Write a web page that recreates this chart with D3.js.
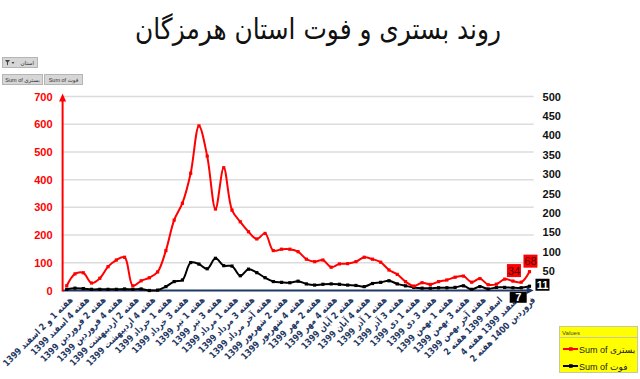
<!DOCTYPE html>
<html>
<head>
<meta charset="utf-8">
<script src="https://cdn.jsdelivr.net/npm/d3@7"></script>
<style>
  html, body { margin: 0; padding: 0; background: #fff; }
  svg { display: block; font-family: "Liberation Sans", Arial, "DejaVu Sans", sans-serif; }
</style>
</head>
<body>
<svg id="chart" width="640" height="379"></svg>
<script>
// ---- data ----
const tickLabels = [
  "هفته 1 و 2 اسفند 1399", "هفته 4 اسفند 1399", "هفته 2 فروردین 1399", "هفته 4 فروردین 1399",
  "هفته 2 اردیبهشت 1399", "هفته 4 اردیبهشت 1399", "هفته 1 خرداد 1399", "هفته 3 خرداد 1399",
  "هفته 1 تیر 1399", "هفته 3 تیر 1399", "هفته 1 مرداد 1399", "هفته 3 مرداد 1399",
  "هفته آخر مرداد 1399", "هفته 2 شهریور 1399", "هفته 4 شهریور 1399", "هفته 2 مهر 1399",
  "هفته 4 مهر 1399", "هفته 2 آبان 1399", "هفته 4 آبان 1399", "هفته 1 آذر 1399",
  "هفته 3 آذر 1399", "هفته 1 دی 1399", "هفته 3 دی 1399", "هفته 1 بهمن 1399",
  "هفته 3 بهمن 1399", "هفته آخر بهمن 1399", "اسفند 1399 هفته 2", "اسفند 1399 هفته 4",
  "فروردین 1400 هفته 2"
];
// hospitalized (left axis)
const hospitalized = [17, 60, 64, 27, 44, 86, 110, 120, 17, 35, 46, 67, 144, 254, 315, 423, 594, 485, 294, 443,
  290, 248, 212, 186, 206, 144, 149, 149, 140, 113, 104, 110, 84, 96, 97, 104, 120, 113, 102, 74,
  58, 32, 16, 28, 22, 32, 38, 48, 52, 30, 43, 21, 23, 41, 34, 30, 68];
// deaths (right axis)
const deaths = [3, 6, 5, 3, 3, 3, 3, 4, 3, 4, 0, 1, 10, 23, 27, 72, 68, 56, 83, 64,
  63, 38, 55, 46, 33, 23, 21, 20, 24, 17, 14, 16, 17, 16, 14, 13, 10, 18, 21, 25,
  17, 12, 8, 6, 6, 7, 7, 8, 12, 3, 10, 4, 8, 8, 7, 7, 11];
const leftTicks = [0, 100, 200, 300, 400, 500, 600, 700];
const rightTicks = [50, 100, 150, 200, 250, 300, 350, 400, 450, 500];
const seriesNames = ["Sum of بستری", "Sum of فوت"];
const titleText = "روند بستری و فوت استان هرمزگان";
const labeledRed = [54, 56];
const labeledBlack = [55, 56];

// ---- layout ----
const svg = d3.select("#chart");
const L = 62.6, R = 533.6, T = 96.5, B = 290.5;
const idx = d3.range(hospitalized.length);
const x = d3.scalePoint().domain(idx).range([L, R]).padding(0.5);
const yL = d3.scaleLinear().domain([0, 700]).range([B, T]);
const yR = d3.scaleLinear().domain([0, 500]).range([B, T]);

const navy = "#1f3864";

// title
svg.append("text").attr("x", 318).attr("y", 39).attr("text-anchor", "middle")
  .attr("font-size", 29).attr("fill", "#111").attr("font-family", "DejaVu Sans, sans-serif")
  .attr("textLength", 366).attr("lengthAdjust", "spacingAndGlyphs")
  .text(titleText);

// top-left pivot buttons
const btn = svg.append("g").attr("font-size", 5.5).attr("fill", "#333");
btn.append("rect").attr("x", 2.5).attr("y", 57.5).attr("width", 35).attr("height", 10)
  .attr("fill", "#d6d6d6").attr("stroke", "#b5b5b5");
btn.append("text").attr("x", 34).attr("y", 64.5).attr("text-anchor", "end").attr("fill", "#333").text("استان");
btn.append("path").attr("d", "M5,60 h5 l-2,2.5 v3 l-1,-0.8 v-2.2 z").attr("fill", "#444");
btn.append("path").attr("d", "M11.5,62 h3 l-1.5,2 z").attr("fill", "#444");
[{x: 2.5, w: 40, t: seriesNames[0]}, {x: 44.5, w: 38, t: seriesNames[1]}].forEach(b => {
  btn.append("rect").attr("x", b.x).attr("y", 74.5).attr("width", b.w).attr("height", 10)
    .attr("fill", "#d6d6d6").attr("stroke", "#b5b5b5");
  btn.append("text").attr("x", b.x + b.w / 2).attr("y", 81.5).attr("text-anchor", "middle")
    .attr("fill", "#333").text(b.t);
});

// gridlines
svg.append("g").selectAll("line").data(leftTicks.slice(1)).join("line")
  .attr("x1", L).attr("x2", R).attr("y1", d => yL(d)).attr("y2", d => yL(d))
  .attr("stroke", "#dcdcdc").attr("stroke-width", 1.5);

// left axis labels
const gL = svg.append("g").attr("transform", `translate(${L},0)`)
  .call(d3.axisLeft(yL).tickValues(leftTicks).tickSize(0).tickPadding(10));
gL.select(".domain").remove();
gL.selectAll("text").attr("fill", "#ff0000").attr("font-weight", "bold").attr("font-size", 11)
  .attr("font-family", "Liberation Sans, Arial, sans-serif");

// right axis labels
const gR = svg.append("g").attr("transform", `translate(${R},0)`)
  .call(d3.axisRight(yR).tickValues(rightTicks).tickSize(0).tickPadding(9));
gR.select(".domain").remove();
gR.selectAll("text").attr("fill", "#111").attr("font-weight", "bold").attr("font-size", 11)
  .attr("font-family", "Liberation Sans, Arial, sans-serif");

// x axis labels
const evens = idx.filter(i => i % 2 === 0);
const gX = svg.append("g").attr("transform", `translate(0,${B})`)
  .call(d3.axisBottom(x).tickValues(evens).tickSize(0).tickFormat(i => tickLabels[i / 2]));
gX.select(".domain").remove();
const xt = gX.selectAll("text")
  .attr("fill", navy).attr("font-weight", "bold").attr("font-size", 9.2)
  .attr("font-family", "DejaVu Sans, sans-serif")
  .attr("text-anchor", "end").attr("dy", 0).attr("y", 0)
  .attr("transform", "translate(6,10) rotate(-45)");
// compress horizontally so the longest-first label spans about as in the reference
const firstLen = xt.node().getComputedTextLength();
const k = Math.min(1, 94 / firstLen);
xt.each(function () {
  const len = this.getComputedTextLength();
  d3.select(this).attr("textLength", len * k).attr("lengthAdjust", "spacingAndGlyphs");
});

// bottom axis line with arrow
svg.append("line").attr("x1", L).attr("x2", R - 3).attr("y1", B).attr("y2", B)
  .attr("stroke", navy).attr("stroke-width", 2);
svg.append("path").attr("d", `M${R - 7},${B - 3.5} L${R},${B} L${R - 7},${B + 3.5} Z`).attr("fill", navy);

// left axis line with arrow
svg.append("line").attr("x1", L).attr("x2", L).attr("y1", B + 1).attr("y2", T + 2)
  .attr("stroke", "#ff0000").attr("stroke-width", 2);
svg.append("path").attr("d", `M${L - 3.5},${T + 5} L${L},${T - 3} L${L + 3.5},${T + 5} Z`).attr("fill", "#ff0000");

// series
const curve = d3.curveCatmullRom.alpha(0.5);
const lineL = d3.line().x(i => x(i)).y(i => yL(hospitalized[i])).curve(curve);
const lineR = d3.line().x(i => x(i)).y(i => yR(deaths[i])).curve(curve);

svg.append("path").attr("d", lineR(idx)).attr("fill", "none").attr("stroke", "#000").attr("stroke-width", 2);
svg.append("g").selectAll("rect").data(idx).join("rect")
  .attr("x", i => x(i) - 1.6).attr("y", i => yR(deaths[i]) - 1.6).attr("width", 3.2).attr("height", 3.2)
  .attr("fill", "#000");

svg.append("path").attr("d", lineL(idx)).attr("fill", "none").attr("stroke", "#ff0000").attr("stroke-width", 2);
svg.append("g").selectAll("rect").data(idx).join("rect")
  .attr("x", i => x(i) - 1.6).attr("y", i => yL(hospitalized[i]) - 1.6).attr("width", 3.2).attr("height", 3.2)
  .attr("fill", "#ff0000");

// data labels
function box(cx, cy, w, h, fill, txt, tcol) {
  svg.append("rect").attr("x", cx - w / 2).attr("y", cy - h / 2).attr("width", w).attr("height", h).attr("fill", fill);
  svg.append("text").attr("x", cx).attr("y", cy + 4).attr("text-anchor", "middle")
    .attr("font-size", 11).attr("font-family", "Liberation Sans, Arial, sans-serif")
    .attr("font-weight", tcol === "#fff" ? "bold" : "normal")
    .attr("fill", tcol).text(txt);
}
labeledRed.forEach(i => box(x(i) + 1, yL(hospitalized[i]) - 10.5, 14, 13, "#ff0000", hospitalized[i], "#4a0000"));
box(x(labeledBlack[0]) - 3, yR(deaths[labeledBlack[0]]) + 9.5, 17, 11, "#000", deaths[labeledBlack[0]], "#fff");
box(x(labeledBlack[1]) + 13, yR(deaths[labeledBlack[1]]) - 1.5, 14, 12, "#000", deaths[labeledBlack[1]], "#fff");

// legend
const lg = svg.append("g");
lg.append("rect").attr("x", 559.5).attr("y", 326.5).attr("width", 78).attr("height", 46)
  .attr("fill", "#ffff00").attr("stroke", "#c8c8a0");
lg.append("line").attr("x1", 560).attr("x2", 637).attr("y1", 337.5).attr("y2", 337.5).attr("stroke", "#c8c8a0");
lg.append("text").attr("x", 562).attr("y", 334.5).attr("font-size", 6).attr("fill", "#444").text("Values");
[{y: 349, c: "#ff0000", t: seriesNames[0]}, {y: 366, c: "#000", t: seriesNames[1]}].forEach(r => {
  lg.append("line").attr("x1", 563).attr("x2", 578).attr("y1", r.y).attr("y2", r.y).attr("stroke", r.c).attr("stroke-width", 2);
  lg.append("rect").attr("x", 569).attr("y", r.y - 1.8).attr("width", 3.6).attr("height", 3.6).attr("fill", r.c);
  lg.append("text").attr("x", 579).attr("y", r.y + 3.5).attr("font-size", 9).attr("fill", "#222")
    .attr("font-family", "Liberation Sans, Arial, DejaVu Sans, sans-serif").text(r.t);
});
</script>
</body>
</html>
